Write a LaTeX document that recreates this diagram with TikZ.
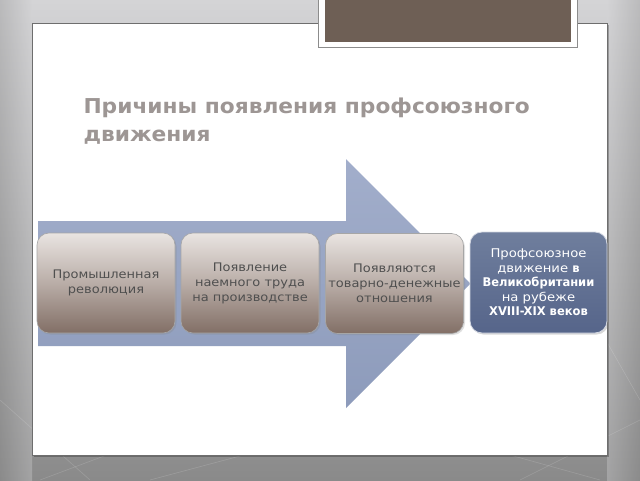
\documentclass[tikz,border=0pt]{standalone}
\usepackage{fontspec}
\setmainfont{DejaVu Sans}
\newfontfamily\titlefont[FakeStretch=1.06]{DejaVu Sans}
\newfontfamily\boxfont[FakeStretch=1.1]{DejaVu Sans}
\newfontfamily\boxboldfont[FakeStretch=0.96]{DejaVu Sans}
\newcommand{\bb}[1]{{\boxboldfont\bfseries #1}}
\usetikzlibrary{shadows}
\definecolor{bgtop}{HTML}{D4D4D6}
\definecolor{bgbot}{HTML}{8A8A8A}
\definecolor{slideedge}{HTML}{6E6E6E}
\definecolor{brownbox}{HTML}{6E5F55}
\definecolor{titlegray}{HTML}{9D9694}
\definecolor{arrowtop}{HTML}{A2AECB}
\definecolor{arrowbot}{HTML}{8D9BBB}
\definecolor{btop}{HTML}{E9E4E1}
\definecolor{bmid}{HTML}{B9ADA7}
\definecolor{bbot}{HTML}{826F66}
\definecolor{bluetop}{HTML}{6F7E9D}
\definecolor{bluebot}{HTML}{56658A}
\definecolor{boxtext}{HTML}{4F4F4F}
\tikzset{
  stagebox/.style={rounded corners=12pt, draw=black!35, line width=0.6pt,
    top color=btop, bottom color=bbot, middle color=bmid,
    minimum width=138pt, minimum height=100pt, align=center, inner xsep=1.5pt,
    text=boxtext, font=\boxfont\fontsize{11.8}{15}\selectfont,
    drop shadow={shadow xshift=1.5pt, shadow yshift=-1.5pt, opacity=0.25}},
  goalbox/.style={rounded corners=12pt, draw=white!70!bluetop, line width=0.8pt,
    top color=bluetop, bottom color=bluebot,
    minimum width=137pt, minimum height=101pt, align=center, inner xsep=1.5pt,
    text=white, font=\boxfont\fontsize{12}{14.5}\selectfont,
    drop shadow={shadow xshift=1.5pt, shadow yshift=-1.5pt, opacity=0.3}},
  titletext/.style={anchor=base west, text=titlegray, align=left,
    font=\titlefont\fontsize{20.5}{27.5}\selectfont\bfseries}
}
\begin{document}
\begin{tikzpicture}[x=1pt,y=-1pt]
\useasboundingbox (0,0) rectangle (640,480);
% background
\shade[top color=bgtop, bottom color=bgbot] (0,0) rectangle (640,480);
\shade[left color=black!45, right color=bgtop, opacity=0.35] (0,0) rectangle (32,480);
\shade[left color=bgtop, right color=black!45, opacity=0.35] (607,0) rectangle (640,480);
\foreach \a/\b/\c/\d in {0/400/90/480, 40/480/200/420, 150/480/300/440, 420/430/600/480, 520/480/640/420, 600/330/640/400}
  \draw[white, opacity=0.15, line width=0.6pt] (\a,\b) -- (\c,\d);
% slide
\fill[black, opacity=0.25] (34,25) rectangle (609,457);
\draw[slideedge, fill=white, line width=0.8pt] (32,23) rectangle (607,455);
% top brown plate
\draw[black!45, fill=white, line width=0.6pt] (318,-2) rectangle (577,47);
\fill[brownbox] (325,-2) rectangle (571,42);
% title
\node[titletext] (title) at (80,141) {Причины появления профсоюзного\\движения};
% big arrow
\path[top color=arrowtop, bottom color=arrowbot]
  (38,221) -- (346,221) -- (346,159) -- (470.5,283.5) -- (346,408) -- (346,346) -- (38,346) -- cycle;
% boxes
\node[stagebox] (b1) at (106,283) {Промышленная\\революция};
\node[stagebox] (b2) at (250,283) {Появление\\наемного труда\\на производстве};
\node[stagebox] (b3) at (394.5,283.5) {Появляются\\товарно-денежные\\отношения};
\node[goalbox] (b4) at (538.5,282.5) {Профсоюзное\\движение \bb{в}\\\bb{Великобритании}\\на рубеже\\\bb{XVIII-XIX веков}};
\end{tikzpicture}
\end{document}
